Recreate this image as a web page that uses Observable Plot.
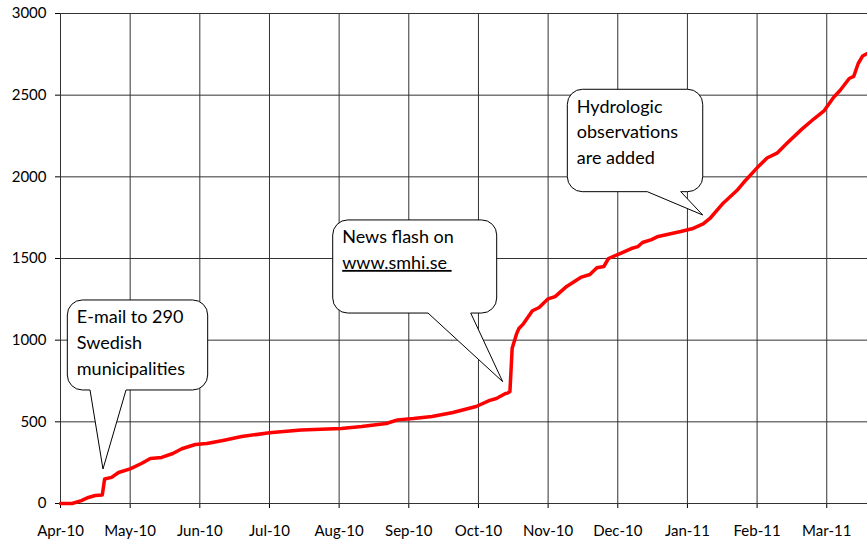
<!DOCTYPE html>
<html><head><meta charset="utf-8">
<script src="https://cdn.jsdelivr.net/npm/d3@7"></script>
<script src="https://cdn.jsdelivr.net/npm/@observablehq/plot@0.6"></script>
<style>
html,body{margin:0;padding:0;background:#fff;}
#chart{width:867px;height:539px;overflow:hidden;}
</style></head><body><div id="chart"></div>
<script>
// ---- data ----
const monthLabels = ["Apr-10","May-10","Jun-10","Jul-10","Aug-10","Sep-10","Oct-10","Nov-10","Dec-10","Jan-11","Feb-11","Mar-11"];
const yTicks = [0, 500, 1000, 1500, 2000, 2500, 3000];

const dates = [
  "2010-04-01","2010-04-06","2010-04-10","2010-04-13","2010-04-16","2010-04-19","2010-04-20","2010-04-23","2010-04-26",
  "2010-05-01","2010-05-06","2010-05-10","2010-05-15","2010-05-20","2010-05-24","2010-05-30",
  "2010-06-04","2010-06-11","2010-06-19","2010-07-01","2010-07-15","2010-08-02","2010-08-11","2010-08-22","2010-08-27",
  "2010-09-03","2010-09-11","2010-09-20","2010-09-30","2010-10-06","2010-10-09","2010-10-13","2010-10-14","2010-10-15",
  "2010-10-16","2010-10-18","2010-10-19","2010-10-21","2010-10-25","2010-10-28",
  "2010-11-01","2010-11-04","2010-11-09","2010-11-15","2010-11-19","2010-11-22","2010-11-25","2010-11-27",
  "2010-12-02","2010-12-07","2010-12-10","2010-12-12","2010-12-16","2010-12-19","2010-12-23","2010-12-29",
  "2011-01-03","2011-01-08","2011-01-11","2011-01-17","2011-01-23","2011-01-26",
  "2011-02-01","2011-02-05","2011-02-09","2011-02-13","2011-02-19","2011-02-24","2011-02-28",
  "2011-03-04","2011-03-07","2011-03-11","2011-03-13","2011-03-15","2011-03-17","2011-03-19"
];
const values = [
  0,0,18,37,49,52,150,160,190,
  212,245,276,282,306,335,361,
  367,386,410,433,450,459,471,490,512,
  520,533,557,594,631,643,673,676,685,
  950,1040,1071,1100,1180,1200,
  1253,1267,1329,1384,1402,1443,1451,1500,
  1530,1561,1573,1598,1616,1635,1647,1665,
  1682,1712,1745,1840,1916,1965,
  2055,2115,2145,2205,2292,2357,2406,
  2486,2530,2602,2615,2694,2740,2755
];

// callouts (box corners, pointer base and tip in data units: month position, value)
const noteTexts = [["E-mail to 290","Swedish","municipalities"],["News flash on","www.smhi.se\u00a0"],["Hydrologic","observations","are added"]];
const noteUnderline = [[], [1], []];
const noteBoxX = [[0.105, 2.12], [3.915, 6.269], [7.283, 9.227]];
const noteBoxY = [[1243, 692], [1733, 1163], [2533, 1906]];
const noteBaseX = [[0.431, 0.948], [5.283, 5.896], [8.431, 8.911]];
const noteTip = [[0.617, 208], [6.355, 743], [9.227, 1763]];

// ---- helpers ----
function monthPos(s) {
  const [y, m, d] = s.split("-").map(Number);
  const k = (y - 2010) * 12 + (m - 1) - 3;
  const dim = new Date(y, m, 0).getDate();
  return k + (d - 1) / dim;
}
const series = dates.map((d, i) => ({m: monthPos(d), v: values[i]}));
const monthIdx = monthLabels.map((_, i) => i);

const plot = Plot.plot({
  width: 867, height: 539,
  marginLeft: 60, marginRight: 0, marginTop: 13, marginBottom: 36,
  style: {fontFamily: "Lato, sans-serif", fontSize: "15px", color: "#000", background: "#fff", overflow: "visible"},
  x: {type: "linear", domain: [0, 11.585], ticks: monthIdx, tickFormat: i => monthLabels[i], tickSize: 5, tickPadding: 17, label: null},
  y: {domain: [0, 3000], ticks: yTicks, tickFormat: d => String(d), tickSize: 5, tickPadding: 9, label: null},
  marks: [
    Plot.ruleY(yTicks, {stroke: "#333", strokeWidth: 1}),
    Plot.ruleX(monthIdx, {stroke: "#333", strokeWidth: 1}),
    Plot.line(series, {x: "m", y: "v", stroke: "#ff0000", strokeWidth: 3.5, strokeLinejoin: "round"})
  ]
});
document.getElementById("chart").appendChild(plot);

// ---- callouts ----
const svgEl = plot.tagName.toLowerCase() === "svg" ? plot : plot.querySelector("svg");
const sx = plot.scale("x"), sy = plot.scale("y");
const X = sx.apply ? v => sx.apply(v) : d3.scaleLinear(sx.domain, sx.range);
const Y = sy.apply ? v => sy.apply(v) : d3.scaleLinear(sy.domain, sy.range);
const g = d3.select(svgEl).append("g").attr("text-anchor", "start");
const r = 15;
noteTexts.forEach((lines, i) => {
  const x0 = X(noteBoxX[i][0]), x1 = X(noteBoxX[i][1]);
  const y0 = Y(noteBoxY[i][0]), y1 = Y(noteBoxY[i][1]);
  const b0 = X(noteBaseX[i][0]), b1 = X(noteBaseX[i][1]);
  const tx = X(noteTip[i][0]), ty = Y(noteTip[i][1]);
  const p = `M${x0 + r},${y0}H${x1 - r}A${r},${r} 0 0 1 ${x1},${y0 + r}V${y1 - r}A${r},${r} 0 0 1 ${Math.max(x1 - r, b1)},${y1}` +
            `H${b1}L${tx},${ty}L${b0},${y1}H${x0 + r}A${r},${r} 0 0 1 ${x0},${y1 - r}V${y0 + r}A${r},${r} 0 0 1 ${x0 + r},${y0}Z`;
  g.append("path").attr("d", p).attr("fill", "#fff").attr("stroke", "#000").attr("stroke-width", 1);
  lines.forEach((t, j) => {
    g.append("text")
      .attr("x", x0 + 9.5).attr("y", y0 + 17 + j * 25.7).attr("dy", "0.35em")
      .attr("text-anchor", "start")
      .attr("font-family", "Lato, sans-serif").attr("font-size", 18).attr("fill", "#000")
      .style("text-decoration", noteUnderline[i].includes(j) ? "underline" : null)
      .text(t);
  });
});
</script></body></html>
